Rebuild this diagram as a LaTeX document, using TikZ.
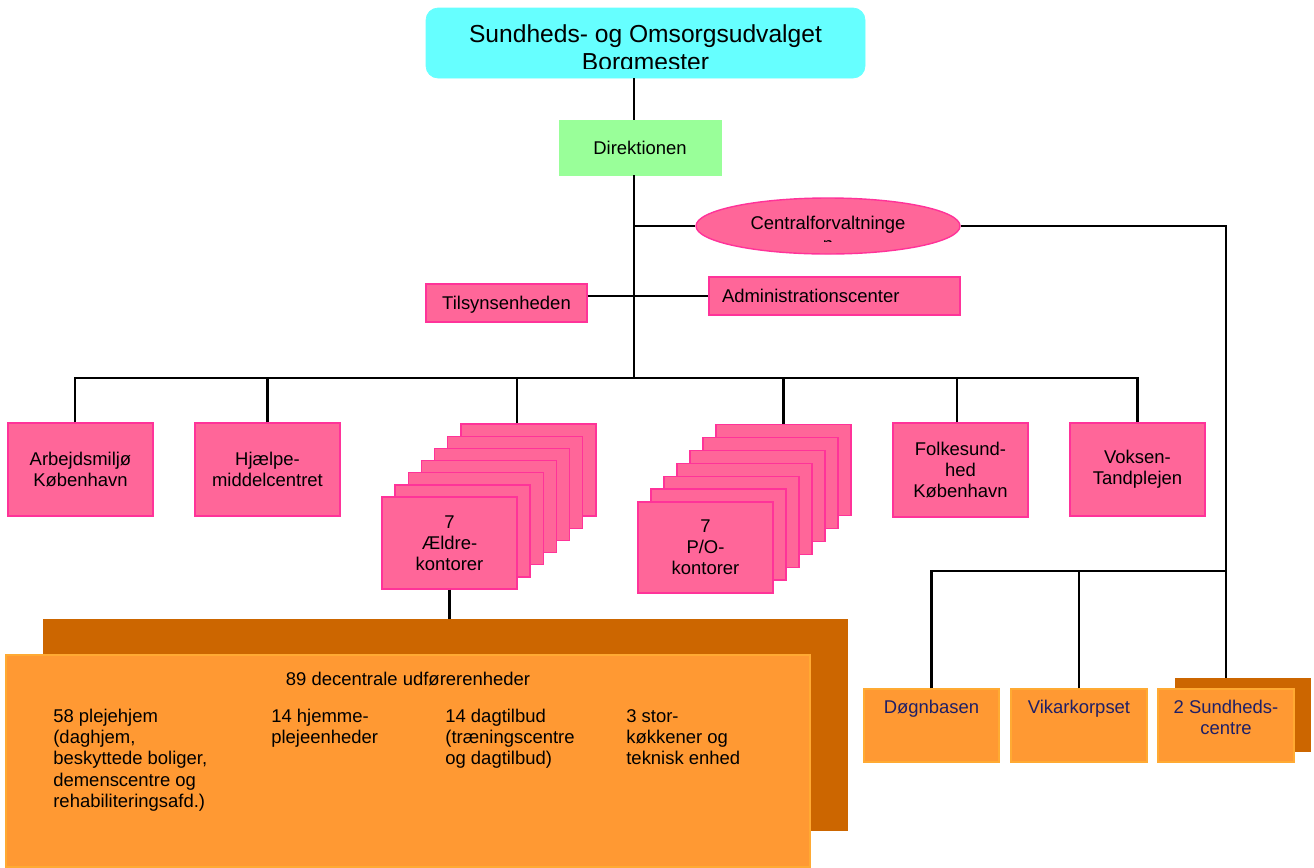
\documentclass[tikz,border=0pt]{standalone}
\usepackage{fontspec}
\setmainfont{Liberation Sans}
\usetikzlibrary{shapes.geometric,positioning}

\definecolor{udvalgcyan}{HTML}{66FFFF}
\definecolor{direkgreen}{HTML}{99FF99}
\definecolor{pinkfill}{HTML}{FF6699}
\definecolor{pinkline}{HTML}{FF3399}
\definecolor{orangefill}{HTML}{FF9933}
\definecolor{orangeline}{HTML}{FFAA33}
\definecolor{darkorange}{HTML}{CC6600}
\definecolor{navytext}{HTML}{1F1F66}

\tikzset{
  txt/.style={font=\fontsize{10.5}{12}\selectfont, align=center, inner sep=0pt},
  rtxt/.style={txt, text=navytext},
  pinkbox/.style={draw=pinkline, fill=pinkfill, line width=0.8pt, txt},
  orangebox/.style={draw=orangeline, fill=orangefill, line width=0.8pt, minimum width=2.7cm, minimum height=1.46cm, inner sep=0pt},
  skyggebox/.style={fill=darkorange, inner sep=0pt},
  conn/.style={black, line width=1.2pt}
}

\begin{document}
\begin{tikzpicture}
\useasboundingbox (0,0) rectangle (26.28,-17.34);

\node[draw=udvalgcyan, fill=udvalgcyan, rounded corners=0.24cm, minimum width=8.78cm, minimum height=1.40cm] (udvalg) at (12.91,-0.86) {};
\begin{scope}
\clip (8.52,-0.16) rectangle (17.30,-1.36);
\node[txt, font=\fontsize{14}{16}\selectfont] (udvalgtekst) at (12.91,-1.00) {Sundheds- og Omsorgsudvalget\\Borgmester};
\end{scope}
\node[draw=direkgreen, fill=direkgreen, txt, minimum width=3.24cm, minimum height=1.10cm] (direk) at (12.80,-2.95) {Direktionen};

\node[ellipse, draw=pinkline, fill=pinkfill, line width=0.8pt, minimum width=5.28cm, minimum height=1.12cm, inner sep=0pt] (central) at (16.56,-4.52) {};
\begin{scope}
\clip (13.92,-3.96) rectangle (19.20,-4.82);
\node[txt] (centraltekst) at (16.56,-4.67) {Centralforvaltninge\\n};
\end{scope}
\node[pinkbox, minimum width=3.22cm, minimum height=0.76cm, text depth=0pt] (tilsyn) at (10.13,-6.06) {Tilsynsenheden};
\node[pinkbox, minimum width=5.02cm, minimum height=0.76cm, text width=4.5cm, align=left] (admin) at (16.69,-5.92) {Administrationscenter};

\node[pinkbox, minimum width=2.90cm, minimum height=1.86cm] (arbejd) at (1.61,-9.39) {Arbejdsmiljø\\København};
\node[pinkbox, minimum width=2.90cm, minimum height=1.86cm] (hjaelp) at (5.35,-9.39) {Hjælpe-\\middelcentret};
\node[pinkbox, minimum width=2.70cm, minimum height=1.88cm] (folke) at (19.21,-9.40) {Folkesund-\\hed\\København};
\node[pinkbox, minimum width=2.70cm, minimum height=1.86cm] (voksen) at (22.75,-9.39) {Voksen-\\Tandplejen};

\foreach \i in {6,...,1}
  \node[pinkbox, minimum width=2.70cm, minimum height=1.84cm] (aeldre\i) at (8.99+0.263*\i,-10.86+0.243*\i) {};
\node[pinkbox, minimum width=2.70cm, minimum height=1.84cm] (aeldre0) at (8.99,-10.86) {7\\Ældre-\\kontorer};
\foreach \i in {6,...,1}
  \node[pinkbox, minimum width=2.70cm, minimum height=1.82cm] (po\i) at (14.11+0.26*\i,-10.95+0.258*\i) {};
\node[pinkbox, minimum width=2.70cm, minimum height=1.82cm] (po0) at (14.11,-10.95) {7\\P/O-\\kontorer};

\node[skyggebox, minimum width=16.10cm, minimum height=4.24cm] (udfoerskygge) at (8.91,-14.50) {};
\node[draw=orangeline, fill=orangefill, line width=0.8pt, minimum width=16.08cm, minimum height=4.24cm, inner sep=0pt] (udfoer) at (8.16,-15.22) {};
\node[txt] (udfoertitel) at (8.16,-13.58) {89 decentrale udførerenheder};
\node[txt, align=left, anchor=north west] (plejehjem) at (1.06,-14.18) {58 plejehjem\\(daghjem,\\beskyttede boliger,\\demenscentre og\\rehabiliteringsafd.)};
\node[txt, align=left, anchor=north west] (hjemmepleje) at (5.42,-14.18) {14 hjemme-\\plejeenheder};
\node[txt, align=left, anchor=north west] (dagtilbud) at (8.90,-14.18) {14 dagtilbud\\(træningscentre\\og dagtilbud)};
\node[txt, align=left, anchor=north west] (koekken) at (12.52,-14.18) {3 stor-\\køkkener og\\teknisk enhed};

\node[skyggebox, minimum width=2.72cm, minimum height=1.48cm] (sundskygge) at (24.86,-14.30) {};
\node[orangebox] (doegn) at (18.63,-14.51) {};
\node[orangebox, minimum width=2.72cm] (vikar) at (21.58,-14.51) {};
\node[orangebox, minimum width=2.72cm] (sund) at (24.52,-14.51) {};
\node[rtxt, below=0.22cm of doegn.north] (doegntekst) {Døgnbasen};
\node[rtxt, below=0.22cm of vikar.north] (vikartekst) {Vikarkorpset};
\node[rtxt, below=0.22cm of sund.north] (sundtekst) {2 Sundheds-\\centre};

\coordinate (trunk) at (12.68,-7.56);
\coordinate (hoejrebus) at (24.52,-11.42);
\draw[conn] (udvalg.south -| trunk) -- (direk.north -| trunk);
\draw[conn] (direk.south -| trunk) -- (trunk);
\draw[conn] (central.west -| trunk) -- (central.west);
\draw[conn] (tilsyn.east |- admin.west) -- (admin.west);
\draw[conn] ([xshift=-0.11cm]arbejd.north) -- ([xshift=-0.11cm]arbejd.north |- trunk) -- (voksen.north |- trunk) -- (voksen.north);
\draw[conn] (hjaelp.north) -- (hjaelp.north |- trunk);
\draw[conn] ([xshift=-0.23cm]aeldre6.north) -- ([xshift=-0.23cm]aeldre6.north |- trunk);
\draw[conn] (po6.north) -- (po6.north |- trunk);
\draw[conn] ([xshift=-0.07cm]folke.north) -- ([xshift=-0.07cm]folke.north |- trunk);
\draw[conn] (aeldre0.south) -- (aeldre0.south |- udfoerskygge.north);
\draw[conn] (central.east) -- (central.east -| sund.north) -- (sund.north |- sundskygge.north);
\draw[conn] (doegn.north) -- (doegn.north |- hoejrebus) -- (hoejrebus);
\draw[conn] (vikar.north) -- (vikar.north |- hoejrebus);
\end{tikzpicture}
\end{document}
